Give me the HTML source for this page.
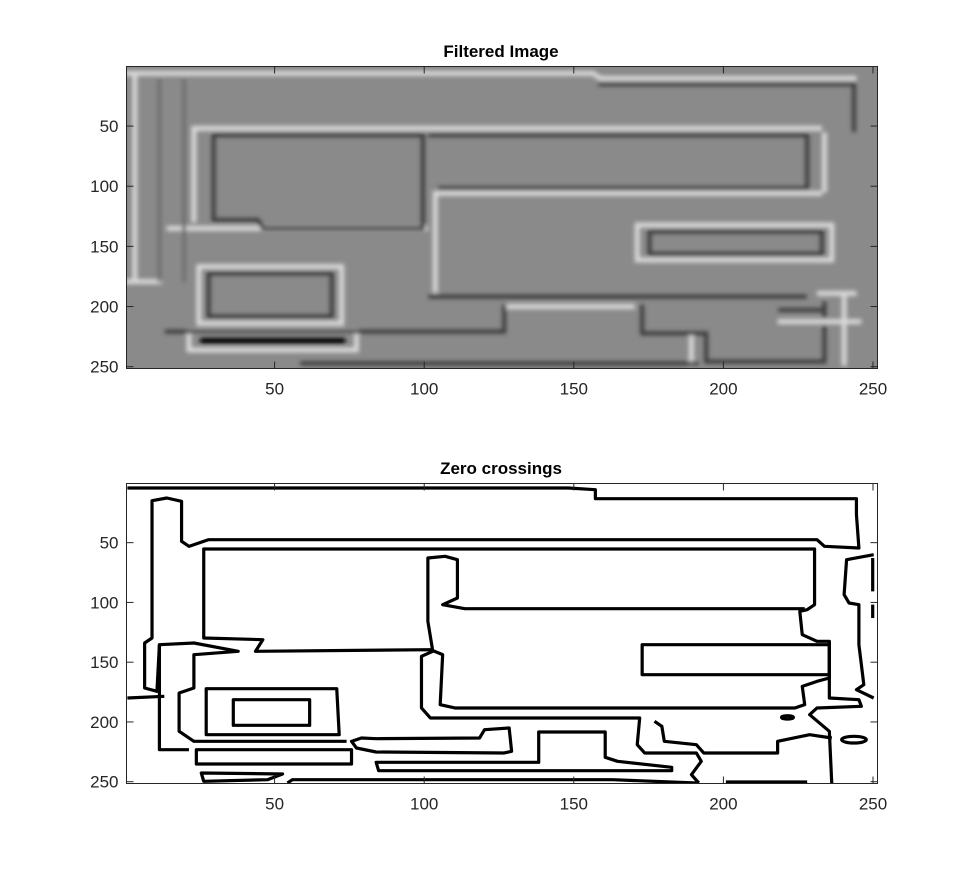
<!DOCTYPE html>
<html><head><meta charset="utf-8"><style>
body{margin:0;background:#fff;}
svg text{font-family:"Liberation Sans",Arial,sans-serif;}
</style></head><body>
<svg width="966" height="880" viewBox="0 0 966 880" xmlns="http://www.w3.org/2000/svg">
<defs>
<clipPath id="c1"><rect x="126.5" y="66.5" width="751" height="302"/></clipPath>
<clipPath id="c2"><rect x="126.5" y="483.5" width="751" height="300"/></clipPath>
<filter id="bl" x="-5%" y="-5%" width="110%" height="110%"><feGaussianBlur stdDeviation="2.2"/></filter>
</defs>
<text x="501" y="57" text-anchor="middle" font-size="17" font-weight="bold">Filtered Image</text>
<text x="501" y="474" text-anchor="middle" font-size="17" font-weight="bold">Zero crossings</text>

<g clip-path="url(#c1)">
<rect x="126" y="66" width="752" height="303" fill="#8a8a8a"/>
<g filter="url(#bl)">
<g transform="translate(120,60) scale(0.4926,0.33333)" fill="none" stroke-linecap="square">
 <g stroke="#d8d8d8" stroke-width="5" vector-effect="non-scaling-stroke">
  <path vector-effect="non-scaling-stroke" d="M15,40 H960 L975,55 H1490"/>
  <path vector-effect="non-scaling-stroke" d="M30,40 V660"/>
  <path vector-effect="non-scaling-stroke" d="M150,205 H1420 M150,205 V480"/>
  <path vector-effect="non-scaling-stroke" d="M1430,225 V390"/>
  <path vector-effect="non-scaling-stroke" d="M640,400 H1420 M640,400 V690"/>
  <path vector-effect="non-scaling-stroke" d="M1050,495 H1445 V600 H1050 Z"/>
  <path vector-effect="non-scaling-stroke" d="M160,620 H450 V790 H160 Z"/>
  <path vector-effect="non-scaling-stroke" d="M140,815 H480 V870 H140 Z"/>
  <path vector-effect="non-scaling-stroke" d="M790,740 H1040"/>
  <path vector-effect="non-scaling-stroke" d="M1160,830 V910"/>
  <path vector-effect="non-scaling-stroke" d="M1470,700 V910"/>
  <path vector-effect="non-scaling-stroke" d="M15,665 H80"/>
  <path vector-effect="non-scaling-stroke" d="M100,505 H620"/>
  <path vector-effect="non-scaling-stroke" d="M1340,785 H1500"/>
  <path vector-effect="non-scaling-stroke" d="M1420,700 H1490"/>
 </g>
 <g stroke="#3a3a3a" stroke-width="4">
  <path vector-effect="non-scaling-stroke" d="M975,72 H1490 V210"/>
  <path vector-effect="non-scaling-stroke" stroke="#707070" d="M80,60 V660 M130,60 V660"/>
  <path vector-effect="non-scaling-stroke" d="M190,225 H615 V505 H290 L280,480 H190 Z"/>
  <path vector-effect="non-scaling-stroke" d="M630,225 H1395 V385 H650"/>
  <path vector-effect="non-scaling-stroke" d="M630,710 H1390"/>
  <path vector-effect="non-scaling-stroke" d="M1075,515 H1425 V582 H1075 Z"/>
  <path vector-effect="non-scaling-stroke" d="M180,640 H430 V770 H180 Z"/>
  <path vector-effect="non-scaling-stroke" d="M1060,740 V820 H1190 V905 H1430 V800"/>
  <path vector-effect="non-scaling-stroke" d="M1430,730 V770 M1340,750 H1430"/>
  <path vector-effect="non-scaling-stroke" d="M370,910 H1170"/>
  <path vector-effect="non-scaling-stroke" d="M95,815 H780 V740"/>
 </g>
 <path vector-effect="non-scaling-stroke" d="M170,842 H450" stroke="#0a0a0a" stroke-width="7"/>
</g>
</g>
</g>

<g clip-path="url(#c2)">
<rect x="126" y="483" width="752" height="301" fill="#fff"/>
<g transform="translate(120,478) scale(0.4926,0.33333)" fill="none" stroke="#000" stroke-width="3.2" stroke-linejoin="round">
 <path vector-effect="non-scaling-stroke" d="M15,30 H910 L965,35 V62 H1495 V110 L1500,210 L1430,205 L1415,185 H180 L140,205 L125,190 V70 L95,60 L65,68 V480 L50,495 V630 L75,640 L80,500 L150,495 L240,520 L150,530 V630 L120,645 V760 L150,790 H460"/>
 <path vector-effect="non-scaling-stroke" d="M80,500 V815 H140"/>
 <path vector-effect="non-scaling-stroke" d="M170,213 H1410 V380 L1395,395 L1380,400 L1385,470 L1415,490 L1440,490 V600 L1415,610 L1385,625 L1390,680 L1370,690 H680 L650,680 L655,530 L630,515 L275,520 L290,485 L170,480 Z"/>
 <path vector-effect="non-scaling-stroke" d="M1390,392 H700 L655,380 L685,360 V245 L660,235 L625,240 V430 L635,520 L612,535 V690 L630,720 H1055 L1050,800 L1065,825 H1170 L1180,850 L1160,890 L1175,915"/>
 <path vector-effect="non-scaling-stroke" d="M1530,230 L1475,245 L1470,350 L1480,375 L1500,380 L1500,500 L1510,620 L1495,635 L1530,660"/>
 <path vector-effect="non-scaling-stroke" d="M1440,490 V660 L1500,665 L1505,685 L1415,690 L1400,710 L1440,760 L1445,920"/>
 <path vector-effect="non-scaling-stroke" d="M1060,500 H1440 V590 H1060 Z"/>
 <path vector-effect="non-scaling-stroke" d="M175,632 H440 L445,770 H175 Z"/>
 <path vector-effect="non-scaling-stroke" d="M230,665 H385 V742 H230 Z"/>
 <path vector-effect="non-scaling-stroke" d="M155,815 H470 V858 H155 Z"/>
 <path vector-effect="non-scaling-stroke" d="M520,853 H850 V762 H985 V838 L1010,850 L1120,868 V878 H525 Z"/>
 <path vector-effect="non-scaling-stroke" d="M470,790 L490,780 L520,782 L730,780 L740,755 L790,750 L795,820 L780,825 L520,822 L480,810 Z"/>
 <path vector-effect="non-scaling-stroke" d="M165,885 L330,888 L300,905 L170,910 Z"/>
 <path vector-effect="non-scaling-stroke" d="M340,915 L350,905 H1000 L1170,915"/>
 <path vector-effect="non-scaling-stroke" d="M1085,730 L1100,745 L1105,790 L1170,800 L1185,825 H1335 V790 L1400,770 L1445,780"/>
 <ellipse vector-effect="non-scaling-stroke" cx="1490" cy="785" rx="25" ry="10"/>
 <ellipse vector-effect="non-scaling-stroke" cx="1355" cy="718" rx="12" ry="5"/>
 <path vector-effect="non-scaling-stroke" d="M1230,912 H1395"/>
 <path vector-effect="non-scaling-stroke" d="M15,660 L90,655"/>
 <path vector-effect="non-scaling-stroke" d="M1528,240 V340 M1528,380 V420"/>
</g>
</g>

<g id="axes"></g>
</svg>
<script>
const xTicks=[50,100,150,200,250];
const yTicks=[50,100,150,200,250];
const panels=[{name:'top',x0:126.5,y0:66.5,w:751,h:302},{name:'bottom',x0:126.5,y0:483.5,w:751,h:300}];
const ns='http://www.w3.org/2000/svg';
const g=document.getElementById('axes');
function mk(t,a){const e=document.createElementNS(ns,t);for(const k in a)e.setAttribute(k,a[k]);g.appendChild(e);return e;}
panels.forEach(p=>{
 const sx=v=>p.x0+(v-0.5)/251*p.w;
 const sy=v=>p.y0+(v-0.5)/251*p.h;
 const box=mk('rect',{x:p.x0,y:p.y0,width:p.w,height:p.h,fill:'none',stroke:'#262626','stroke-width':1});
 
 
 xTicks.forEach(t=>{
  const x=sx(t);
  mk('line',{x1:x,x2:x,y1:p.y0+p.h,y2:p.y0+p.h-7,stroke:'#262626'});
  mk('line',{x1:x,x2:x,y1:p.y0,y2:p.y0+7,stroke:'#262626'});
  const tx=mk('text',{x:x,y:p.y0+p.h+26,'text-anchor':'middle','font-size':17,fill:'#262626'});
  tx.textContent=t;
  
  
 });
 yTicks.forEach(t=>{
  const y=sy(t);
  mk('line',{x1:p.x0,x2:p.x0+7,y1:y,y2:y,stroke:'#262626'});
  mk('line',{x1:p.x0+p.w,x2:p.x0+p.w-7,y1:y,y2:y,stroke:'#262626'});
  const tx=mk('text',{x:p.x0-8,y:y+6,'text-anchor':'end','font-size':17,fill:'#262626'});
  tx.textContent=t;
  
  
 });
});
</script>
</body></html>
